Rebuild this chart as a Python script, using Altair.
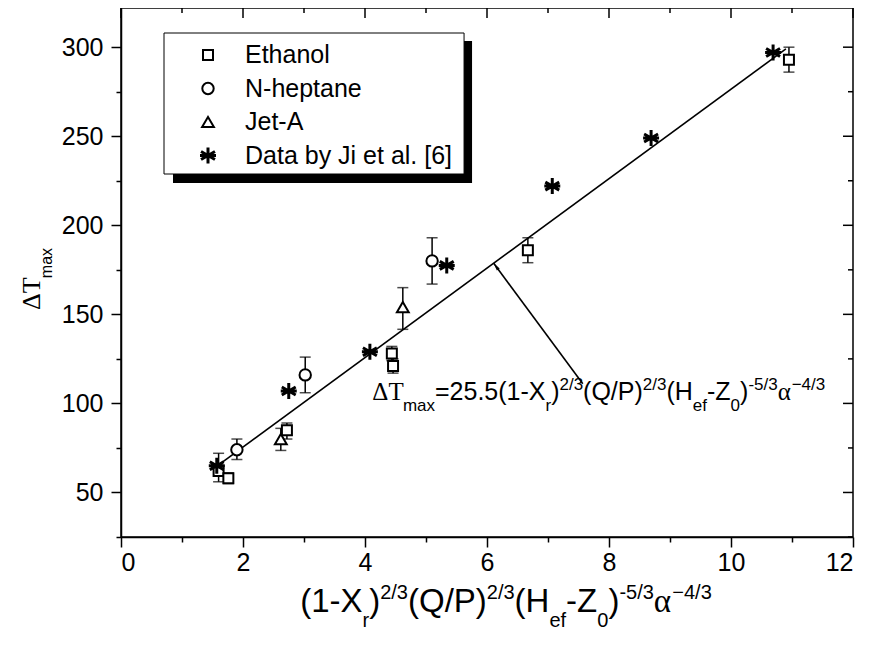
import altair as alt
import pandas as pd
import math

# ---------------- data ----------------
series_names = ["Ethanol", "N-heptane", "Jet-A", "Data by Ji et al. [6]"]

eth_x = [1.60, 1.76, 2.72, 4.44, 4.46, 6.67, 10.95]
eth_y = [62, 58, 85, 128, 121, 186, 293]
eth_lo = [56, 55, 80, 124, 117, 179, 286]
eth_hi = [72, 61, 89, 132, 125, 193, 300]

hep_x = [1.90, 3.02, 5.10]
hep_y = [74, 116, 180]
hep_lo = [68.5, 106, 167]
hep_hi = [80, 126, 193]

jet_x = [2.62, 4.62]
jet_y = [80, 154]
jet_lo = [73.6, 141.6]
jet_hi = [86, 165]

ji_x = [1.57, 2.75, 4.08, 5.34, 7.07, 8.69, 10.69]
ji_y = [65, 107, 129, 177.5, 222, 249, 297]

fit_x = [1.5, 10.9]
fit_y = [63, 299]

arrow_x = [7.57, 6.11]
arrow_y = [111, 178.7]

x_ticks = list(range(0, 13))
y_ticks = list(range(25, 325, 25))

# ---------------- layout ----------------
X_MIN, X_MAX = 0, 12
Y_MIN, Y_MAX = 25, 322
W, H = 732, 529
SANS = "Liberation Sans"
SERIF = "Liberation Serif"


def px_x(v):
    return (v - X_MIN) / (X_MAX - X_MIN) * W


def px_y(v):
    return (Y_MAX - v) / (Y_MAX - Y_MIN) * H


_chars = (" !\"#$%&'()*+,-./0123456789:;<=>?@ABCDEFGHIJKLMNOPQRSTUVWXYZ[\\]^_`"
          "abcdefghijklmnopqrstuvwxyz")
_widths = [278, 278, 355, 556, 556, 889, 667, 191, 333, 333, 389, 584, 278, 333, 278, 278,
           556, 556, 556, 556, 556, 556, 556, 556, 556, 556, 278, 278, 584, 584, 584, 556,
           1015, 667, 667, 722, 722, 667, 611, 778, 722, 278, 500, 667, 556, 833, 722, 778,
           667, 778, 722, 667, 611, 722, 667, 944, 667, 667, 611, 278, 278, 278, 469, 556,
           333, 556, 556, 500, 556, 556, 278, 556, 556, 222, 222, 500, 222, 833, 556, 556,
           556, 556, 333, 500, 278, 556, 500, 722, 500, 500, 500]
W_SANS = dict(zip(_chars, _widths))
W_SANS['\u2212'] = 584
W_SERIF = {'\u0394': 612, 'T': 611, '\u03b1': 560}


def seg_width(text, fam, size):
    tbl = W_SERIF if fam == SERIF else W_SANS
    return sum(tbl.get(c, 556) for c in text) * size / 1000.0


def rich_rows(segs, x0, y0, F, small, angle=0):
    rows = []
    off = 0.0
    for text, fam, lvl in segs:
        size = F if lvl == 0 else small
        shift = 0 if lvl == 0 else (0.46 * F if lvl < 0 else -0.38 * F)
        if angle == 0:
            px, py = x0 + off, y0 + shift
        else:
            px, py = x0 + shift, y0 - off
        rows.append(dict(text=text, font=fam, size=size, px=px, py=py))
        off += seg_width(text, fam, size)
    return rows, off


def text_layers(rows, angle=0):
    df = pd.DataFrame(rows)
    layers = []
    for (font, size), g in df.groupby(["font", "size"]):
        layers.append(
            alt.Chart(g.reset_index(drop=True)).mark_text(
                font=str(font), fontSize=int(size), align="left",
                baseline="alphabetic", angle=angle, color="black"
            ).encode(
                x=alt.X("px:Q", scale=None, axis=None),
                y=alt.Y("py:Q", scale=None, axis=None),
                text="text:N",
            )
        )
    return layers


def title_segs():
    return [("(1-X", SANS, 0), ("r", SANS, -1), (")", SANS, 0), ("2/3", SANS, 1),
            ("(Q/P)", SANS, 0), ("2/3", SANS, 1), ("(H", SANS, 0), ("ef", SANS, -1),
            ("-Z", SANS, 0), ("0", SANS, -1), (")", SANS, 0), ("-5/3", SANS, 1),
            ("\u03b1", SERIF, 0), ("\u22124/3", SANS, 1)]


# ---------------- scales / axes ----------------
xscale = alt.Scale(domain=[X_MIN, X_MAX], nice=False, zero=False)
yscale = alt.Scale(domain=[Y_MIN, Y_MAX], nice=False, zero=False)
xaxis = alt.Axis(values=x_ticks, title=None, grid=False,
                 labelExpr="datum.value % 2 === 0 ? datum.label : ''",
                 tickSize={"condition": {"test": "datum.value % 2 === 0", "value": 10}, "value": 5},
                 labelPadding=3)
yaxis = alt.Axis(values=y_ticks, title=None, grid=False,
                 labelExpr="datum.value % 50 === 0 ? datum.label : ''",
                 tickSize={"condition": {"test": "datum.value % 50 === 0", "value": 10}, "value": 5},
                 labelPadding=8)


def X(field="x"):
    return alt.X(f"{field}:Q", scale=xscale, axis=xaxis)


def Y(field="y"):
    return alt.Y(f"{field}:Q", scale=yscale, axis=yaxis)


layers = []

# mirrored inward ticks on top and right
top_df = pd.DataFrame({"x": x_ticks, "a": [0] * len(x_ticks),
                       "b": [10 if v % 2 == 0 else 5 for v in x_ticks]})
layers.append(alt.Chart(top_df).mark_rule(color="black", strokeWidth=1.5).encode(
    x=X(), y=alt.Y("a:Q", scale=None, axis=None), y2="b:Q"))
right_df = pd.DataFrame({"y": y_ticks,
                         "a": [W - (10 if v % 50 == 0 else 5) for v in y_ticks],
                         "b": [W] * len(y_ticks)})
layers.append(alt.Chart(right_df).mark_rule(color="black", strokeWidth=1.5).encode(
    y=Y(), x=alt.X("a:Q", scale=None, axis=None), x2="b:Q"))

# fit line
fit_df = pd.DataFrame({"x": fit_x, "y": fit_y})
layers.append(alt.Chart(fit_df).mark_line(color="black", strokeWidth=1.6).encode(x=X(), y=Y()))

# arrow
arr_df = pd.DataFrame({"x": arrow_x, "y": arrow_y})
layers.append(alt.Chart(arr_df).mark_line(color="black", strokeWidth=1.6).encode(x=X(), y=Y()))
dxp = px_x(arrow_x[1]) - px_x(arrow_x[0])
dyp = px_y(arrow_y[1]) - px_y(arrow_y[0])
ang = (math.degrees(math.atan2(dxp, -dyp)) + 360) % 360
layers.append(alt.Chart(arr_df.iloc[[1]].reset_index(drop=True)).mark_point(
    shape="M0,0L-0.5,2.2L0.5,2.2Z", size=49, filled=True, color="black",
    opacity=1, angle=ang).encode(x=X(), y=Y()))

# error bars
err_x = eth_x + hep_x + jet_x
err_lo = eth_lo + hep_lo + jet_lo
err_hi = eth_hi + hep_hi + jet_hi
err_df = pd.DataFrame({"x": err_x, "lo": err_lo, "hi": err_hi})
layers.append(alt.Chart(err_df).mark_rule(color="black", strokeWidth=1.5).encode(
    x=X(), y=Y("lo"), y2="hi:Q"))
cap_df = pd.DataFrame({"x": err_x + err_x, "y": err_lo + err_hi})
layers.append(alt.Chart(cap_df).mark_tick(color="black", orient="horizontal",
                                          size=11, thickness=1.5).encode(x=X(), y=Y()))

ASTER = "M0,-1L0,1M-0.87,-0.5L0.87,0.5M-0.87,0.5L0.87,-0.5M-1,0L1,0"


def marker(kind, data, xe, ye):
    if kind == "square":
        m = alt.Chart(data).mark_point(shape="square", size=100, filled=True, fill="white",
                                       stroke="black", strokeWidth=2, opacity=1)
    elif kind == "circle":
        m = alt.Chart(data).mark_point(shape="circle", size=130, filled=True, fill="white",
                                       stroke="black", strokeWidth=2, opacity=1)
    elif kind == "triangle":
        m = alt.Chart(data).mark_point(shape="triangle-up", size=140, filled=True, fill="white",
                                       stroke="black", strokeWidth=2, opacity=1)
    else:
        m = alt.Chart(data).mark_point(shape=ASTER, size=256, filled=False,
                                       stroke="black", strokeWidth=3, opacity=1)
    return m.encode(x=xe, y=ye)


kinds = ["square", "circle", "triangle", "asterisk"]
sets = [(eth_x, eth_y), (hep_x, hep_y), (jet_x, jet_y), (ji_x, ji_y)]
for kind, (xs, ys) in zip(kinds, sets):
    layers.append(marker(kind, pd.DataFrame({"x": xs, "y": ys}), X(), Y()))

# annotation (equation)
ann_segs = [("\u0394T", SERIF, 0), ("max", SANS, -1)] + [("=25.5(1-X", SANS, 0)] + title_segs()[1:]
ann_rows, _ = rich_rows(ann_segs, px_x(4.12), px_y(102), 25, 17)
layers += text_layers(ann_rows)

# legend
LEG_L, LEG_T = 43, 25
LEG_FS = 25
txt_w = max(seg_width(n, SANS, LEG_FS) for n in series_names)
LEG_R = 124 + txt_w + 12
LEG_B = 166
layers.append(alt.Chart(pd.DataFrame({"k": [0]})).mark_rect(color="black").encode(
    x=alt.value(LEG_L + 9), x2=alt.value(LEG_R + 8), y=alt.value(LEG_T + 8), y2=alt.value(LEG_B + 9)))
layers.append(alt.Chart(pd.DataFrame({"k": [0]})).mark_rect(fill="white", stroke="black", strokeWidth=1).encode(
    x=alt.value(LEG_L), x2=alt.value(LEG_R), y=alt.value(LEG_T), y2=alt.value(LEG_B)))
leg_df = pd.DataFrame({"name": series_names,
                       "px": [87] * 4,
                       "tx": [124] * 4,
                       "py": [LEG_T + 22 + i * 33.5 for i in range(4)]})
for i, kind in enumerate(kinds):
    layers.append(marker(kind, leg_df.iloc[[i]].reset_index(drop=True),
                         alt.X("px:Q", scale=None, axis=None), alt.Y("py:Q", scale=None, axis=None)))
layers.append(alt.Chart(leg_df).mark_text(font=SANS, fontSize=LEG_FS, align="left",
                                          baseline="middle", color="black").encode(
    x=alt.X("tx:Q", scale=None, axis=None), y=alt.Y("py:Q", scale=None, axis=None), text="name:N"))

# x title
xt_rows, xt_w = rich_rows(title_segs(), 0, 0, 33, 20)
shift = 385 - xt_w / 2
for r in xt_rows:
    r["px"] += shift
    r["py"] += 604
layers += text_layers(xt_rows)

# y title (rotated)
yt_rows, _ = rich_rows([("\u0394T", SERIF, 0), ("max", SANS, -1)], -81, 302, 26, 16, angle=270)
layers += text_layers(yt_rows, angle=270)

chart = alt.layer(*layers).properties(
    width=W, height=H, autosize="none",
    padding={"left": 113, "top": 0, "right": 8, "bottom": 102},
    background="white",
).configure_view(stroke="black", strokeWidth=1.5).configure_axis(
    domainColor="black", domainWidth=1.5, tickColor="black", tickWidth=1.5,
    labelColor="black", labelFont=SANS, labelFontSize=25,
)

chart.save("out.html", embed_options={"renderer": "svg", "actions": False})
